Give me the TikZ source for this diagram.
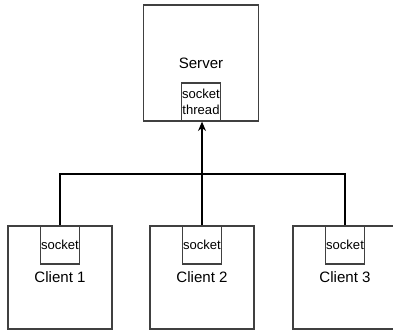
\documentclass[tikz,border=0pt]{standalone}
\usepackage{fontspec}
\setmainfont{Liberation Sans}
\usetikzlibrary{arrows.meta}

\begin{document}
\begin{tikzpicture}[x=0.75pt,y=0.75pt,>={Stealth[length=7pt,width=6pt]}]
  \tikzstyle{host}=[rectangle,draw=black!75,line width=1pt,inner sep=0pt,
  		    font=\fontsize{11.3}{13}\selectfont]
  \tikzstyle{server box}=[host,minimum width=86.25pt,minimum height=87pt]
  \tikzstyle{client box}=[host,minimum width=78pt,minimum height=77.25pt]
  \tikzstyle{sock}=[rectangle,draw=black!75,line width=1pt,inner sep=0pt,
  		    minimum width=29.25pt,minimum height=28.5pt,align=center,
  		    font=\fontsize{9.8}{12.5}\selectfont]
  \tikzstyle{link}=[line width=1pt]
  \useasboundingbox (0,0) rectangle (393,335);
  \node [server box] (server) at (201,272) {Server};
  \node [sock,anchor=south] (tsock) at (server.south) {socket\\thread};
  \node [client box] (c1) at (60,57.5) {Client 1};
  \node [sock,anchor=north] (s1) at (c1.north) {socket};
  \node [client box] (c2) at (202,57.5) {Client 2};
  \node [sock,anchor=north] (s2) at (c2.north) {socket};
  \node [client box] (c3) at (345,57.5) {Client 3};
  \node [sock,anchor=north] (s3) at (c3.north) {socket};
  \coordinate (bus) at (202,161);
  \draw [link] (s1.north) |- (bus) -| (s3.north);
  \draw [link,->] (s2.north) -- (s2.north |- tsock.south);
\end{tikzpicture}
\end{document}
